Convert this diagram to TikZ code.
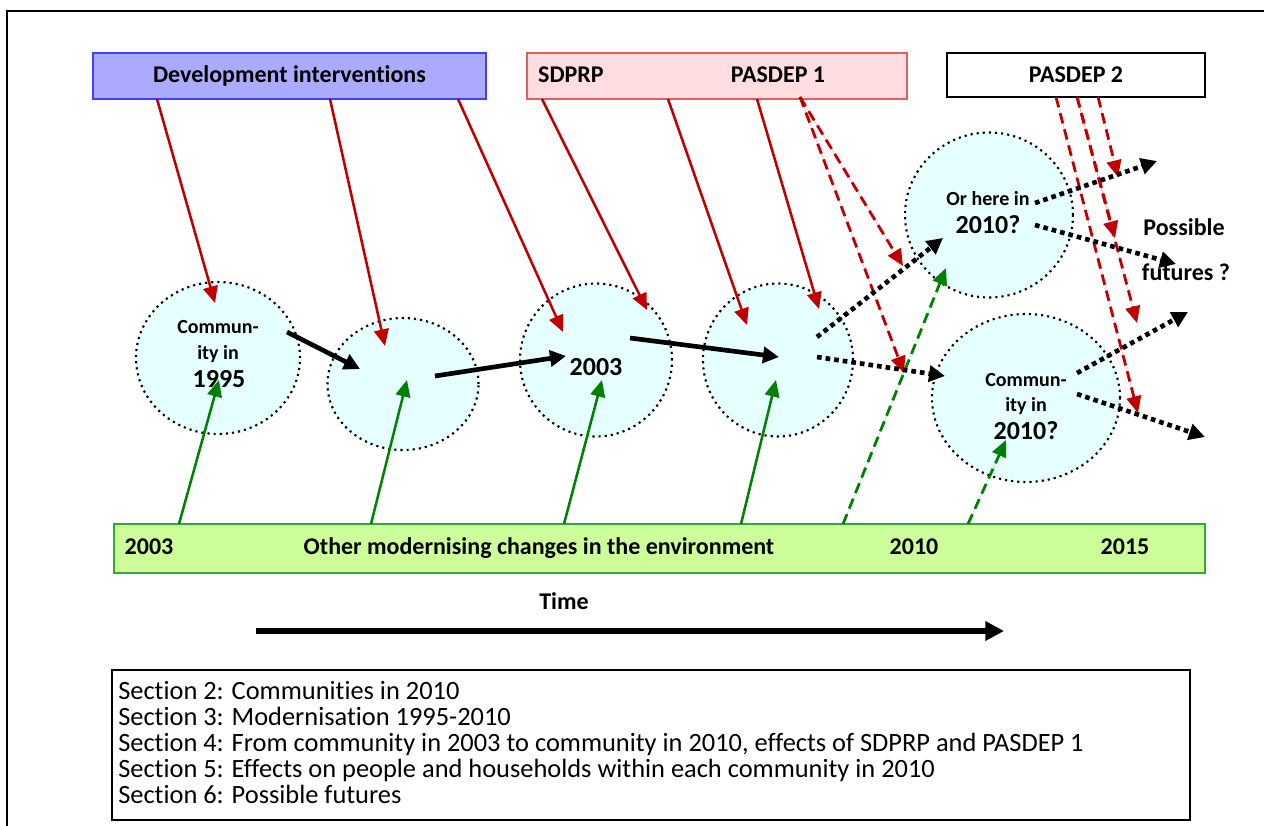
\documentclass[tikz,border=0pt]{standalone}
\usepackage{fontspec}
\setmainfont{Carlito}[Ligatures=NoCommon]
\usetikzlibrary{arrows.meta,shapes.geometric}

\definecolor{devfill}{RGB}{170,170,255}
\definecolor{devline}{RGB}{64,64,255}
\definecolor{govfill}{RGB}{255,221,224}
\definecolor{govline}{RGB}{224,96,96}
\definecolor{envfill}{RGB}{204,255,153}
\definecolor{envline}{RGB}{51,170,51}
\definecolor{commfill}{RGB}{230,255,255}
\definecolor{arrowred}{RGB}{192,0,0}
\definecolor{arrowgreen}{RGB}{0,128,0}

\tikzset{
  box/.style={draw, rectangle, inner sep=0pt, line width=1pt},
  comm/.style={ellipse, draw=black, fill=commfill, inner sep=0pt,
    line width=1.6pt, dash pattern=on 1.6pt off 3pt},
  lbl/.style={font=\fontsize{18}{21}\selectfont\bfseries, anchor=base, inner sep=0pt},
  smalllbl/.style={font=\fontsize{15}{18}\selectfont\bfseries, anchor=base, inner sep=0pt},
  yearlbl/.style={font=\fontsize{19.5}{23}\selectfont\bfseries, anchor=base, inner sep=0pt},
  sectlbl/.style={font=\fontsize{19.8}{20}\selectfont, anchor=base west, inner sep=0pt},
  redarrow/.style={draw=arrowred, line width=1.9pt,
    -{Triangle[length=12.5pt,width=11pt]}, fill=arrowred},
  reddash/.style={redarrow, line width=2.1pt, dash pattern=on 8pt off 4.5pt},
  greenarrow/.style={draw=arrowgreen, line width=1.9pt,
    -{Triangle[length=12.5pt,width=11pt]}, fill=arrowgreen},
  greendash/.style={greenarrow, line width=2.1pt, dash pattern=on 8pt off 4.5pt},
  flow/.style={draw=black, line width=3.5pt, -{Triangle[length=12pt,width=12pt]}},
  dotflow/.style={flow, dash pattern=on 3.5pt off 3pt},
}

\begin{document}
\begin{tikzpicture}[x=0.75pt,y=-0.75pt]
\useasboundingbox (0,0) rectangle (1264,825);

% outer frame (continues past the page edge)
\draw[line width=2pt] (7,840) -- (7,11) -- (1280,11);

% communities
\node[comm, minimum width=123pt, minimum height=114pt] (c1) at (218,358) {};
\node[comm, minimum width=113.25pt, minimum height=99pt] (c2) at (403,384) {};
\node[comm, minimum width=114pt, minimum height=114.75pt] (c3) at (596,360) {};
\node[comm, minimum width=112.5pt, minimum height=114.75pt] (c4) at (778,360) {};
\node[comm, minimum width=126pt, minimum height=123.75pt] (c5) at (989,215) {};
\node[comm, minimum width=141pt, minimum height=126pt] (c6) at (1026,398) {};

\node[smalllbl] (c1a) at (218,333) {Commun-};
\node[smalllbl] (c1b) at (218,359) {ity in};
\node[yearlbl]  (c1c) at (219,387) {1995};
\node[yearlbl]  (c3a) at (596,375) {2003};
\node[smalllbl] (c5a) at (988,205) {Or here in};
\node[yearlbl]  (c5b) at (988,233) {2010?};
\node[smalllbl] (c6a) at (1026,386) {Commun-};
\node[smalllbl] (c6b) at (1026,411) {ity in};
\node[yearlbl]  (c6c) at (1026,439) {2010?};

\node[lbl] (fut1) at (1184,235) {Possible};
\node[lbl] (fut2) at (1186,280) {futures ?};

% policy boxes
\node[box, draw=devline, fill=devfill, minimum width=294.75pt, minimum height=34.5pt] (dev) at (289.5,76) {};
\node[lbl] (devt) at (289.5,82) {Development interventions};
\node[box, draw=govline, fill=govfill, minimum width=285pt, minimum height=34.5pt] (gov) at (717,76) {};
\node[lbl] (sdprp) at (571,82) {SDPRP};
\node[lbl] (pas1) at (778,82) {PASDEP 1};
\node[box, draw=black, fill=white, line width=1.5pt, minimum width=193.5pt, minimum height=33pt] (pas2) at (1076,75) {};
\node[lbl] (pas2t) at (1076,82) {PASDEP 2};

% environment bar
\node[box, draw=envline, fill=envfill, minimum width=818.25pt, minimum height=36.75pt] (env) at (659.5,548.5) {};
\node[lbl] (y03) at (149,554) {2003};
\node[lbl] (envt) at (539,554) {Other modernising changes in the environment};
\node[lbl] (y10) at (914,554) {2010};
\node[lbl] (y15) at (1125,554) {2015};

% time axis
\node[lbl] (time) at (564,609) {Time};
\coordinate (t0) at (256,631);
\coordinate (t1) at (1004,631);
\draw[draw=black, line width=4.5pt, -{Triangle[length=14pt,width=14pt]}] (t0) -- (t1);

% development interventions reaching the communities
\foreach \sx/\sy/\ex/\ey [count=\i] in
  {157/99/215/303, 330/99/385/346, 458/99/563/332,
   542/99/647/310, 668/99/747/325, 757/99/819/309} {
  \coordinate (rs\i) at (\sx,\sy);
  \coordinate (re\i) at (\ex,\ey);
  \draw[redarrow] (rs\i) -- (re\i);
}
\foreach \sx/\sy/\ex/\ey [count=\i] in
  {800/97/903/266, 800/97/904/373, 1098/97/1118/177,
   1077/97/1115/238, 1077/97/1137/323, 1056/97/1138/413} {
  \coordinate (ds\i) at (\sx,\sy);
  \coordinate (de\i) at (\ex,\ey);
  \draw[reddash] (ds\i) -- (de\i);
}

% environment influences
\foreach \sx/\sy/\ex/\ey [count=\i] in
  {179/524/219/380, 371/524/407/380, 564/524/602/380, 741/524/776/380} {
  \coordinate (gs\i) at (\sx,\sy);
  \coordinate (ge\i) at (\ex,\ey);
  \draw[greenarrow] (gs\i) -- (ge\i);
}
\foreach \sx/\sy/\ex/\ey [count=\i] in
  {843/524/946/268, 968/524/1006/440} {
  \coordinate (hs\i) at (\sx,\sy);
  \coordinate (he\i) at (\ex,\ey);
  \draw[greendash] (hs\i) -- (he\i);
}

% community trajectory
\foreach \sx/\sy/\ex/\ey [count=\i] in
  {287/332/360/369, 435/376/566/356, 630/338/779/357} {
  \coordinate (fs\i) at (\sx,\sy);
  \coordinate (fe\i) at (\ex,\ey);
  \draw[flow] (fs\i) -- (fe\i);
}
\foreach \sx/\sy/\ex/\ey [count=\i] in
  {817/337/943/238, 817/357/945/376, 1035/203/1157/161,
   1035/225/1176/264, 1077/373/1188/312, 1077/394/1205/437} {
  \coordinate (ps\i) at (\sx,\sy);
  \coordinate (pe\i) at (\ex,\ey);
  \draw[dotflow] (ps\i) -- (pe\i);
}

% report sections
\node[box, draw=black, line width=1.5pt, minimum width=808.5pt, minimum height=112.5pt] (secs) at (651,745) {};
\node[sectlbl] (s2) at (118,699) {Section 2: Communities in 2010};
\node[sectlbl] (s3) at (118,725) {Section 3: Modernisation 1995-2010};
\node[sectlbl] (s4) at (118,751) {Section 4: From community in 2003 to community in 2010, effects of SDPRP and PASDEP 1};
\node[sectlbl] (s5) at (118,777) {Section 5: Effects on people and households within each community in 2010};
\node[sectlbl] (s6) at (118,803) {Section 6: Possible futures};
\end{tikzpicture}
\end{document}
